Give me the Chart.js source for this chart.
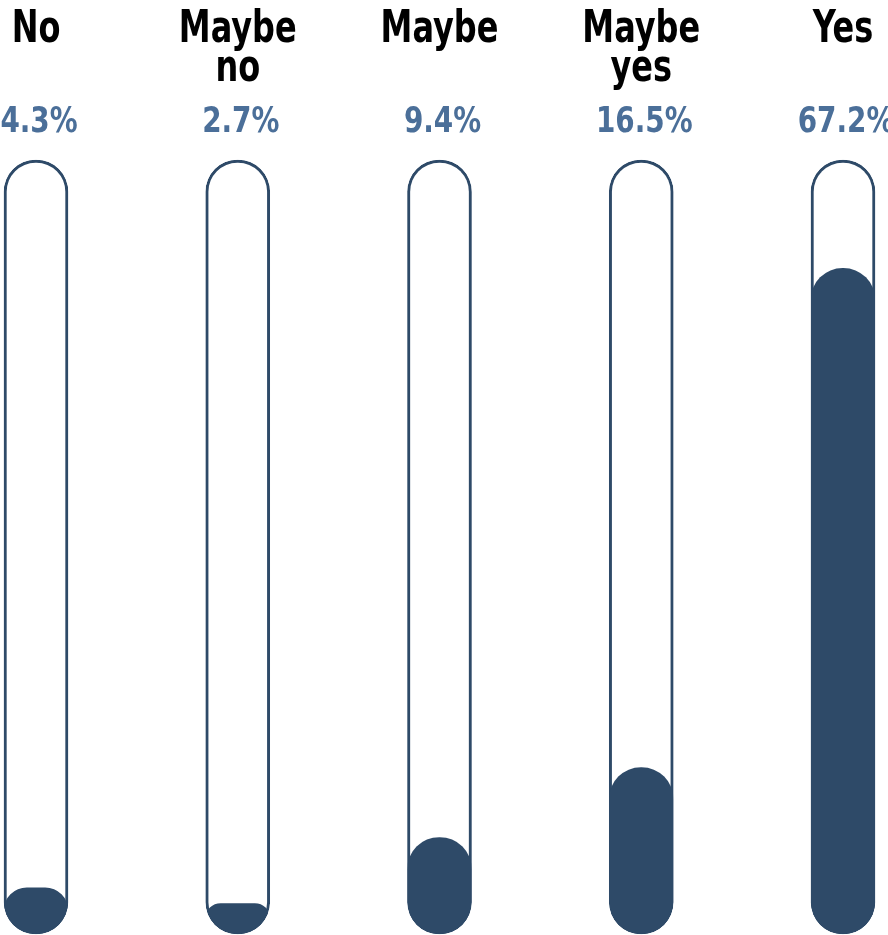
<!DOCTYPE html>
<html>
<head>
<meta charset="utf-8">
<title>Answers</title>
<script src="https://cdn.jsdelivr.net/npm/chart.js@4/dist/chart.umd.min.js"></script>
<style>
    html, body { margin: 0; padding: 0; background: #ffffff; }
    #wrap { width: 888px; height: 935px; position: relative; }
</style>
</head>
<body>
<div id="wrap"><canvas id="tubeChart"></canvas></div>
<script>
// 응답 데이터
const categories = [['No'], ['Maybe', 'no'], ['Maybe'], ['Maybe', 'yes'], ['Yes']];
const shares = [4.3, 2.7, 9.4, 16.5, 67.2];

// 축 범위 (튜브 높이 = 축 최대값)
const yMin = -0.4;
const yMax = 78.2;
const tubeLevels = categories.map(() => yMax);

const darkBlue = '#2e4a68';
const labelBlue = '#4b6f99';
const narrowFont = "'Liberation Sans Narrow', 'DejaVu Sans Condensed', 'Arial Narrow', sans-serif";

// 채워진 막대를 튜브 모양 안으로 잘라내기
const tubeClip = {
    id: 'tubeClip',
    beforeDatasetDraw(chart, args) {
        if (args.index !== 0) return;
        const tubes = chart.getDatasetMeta(1).data;
        const ctx = chart.ctx;
        ctx.save();
        ctx.beginPath();
        tubes.forEach(function(el) {
            const w = el.width;
            ctx.roundRect(el.x - w / 2, el.y, w, el.base - el.y, w / 2);
        });
        ctx.clip();
    },
    afterDatasetDraw(chart, args) {
        if (args.index !== 0) return;
        chart.ctx.restore();
    }
};

// 좁은 글꼴 느낌을 위해 가로로 눌러서 그림
function drawNarrow(ctx, text, x, y, squeeze) {
    ctx.save();
    ctx.translate(x, y);
    ctx.scale(squeeze, 1);
    ctx.fillText(text, 0, 0);
    ctx.restore();
}

// 상단 항목명과 퍼센트 표시
const headerLabels = {
    id: 'headerLabels',
    afterDraw(chart) {
        const ctx = chart.ctx;
        const xScale = chart.scales.x;
        ctx.save();
        ctx.textAlign = 'center';
        ctx.textBaseline = 'alphabetic';
        categories.forEach(function(lines, i) {
            const x = xScale.getPixelForValue(i);
            ctx.fillStyle = '#000000';
            ctx.font = 'bold 45px ' + narrowFont;
            lines.forEach(function(line, j) {
                drawNarrow(ctx, line, x, 42 + j * 39, 0.79);
            });
            ctx.fillStyle = labelBlue;
            ctx.font = 'bold 36px ' + narrowFont;
            drawNarrow(ctx, shares[i].toFixed(1) + '%', x + 3, 132, 0.86);
        });
        ctx.restore();
    }
};

const ctx = document.getElementById('tubeChart').getContext('2d');
new Chart(ctx, {
    type: 'bar',
    data: {
        labels: categories,
        datasets: [
            {
                label: 'Share',
                data: shares,
                base: yMin,
                backgroundColor: darkBlue,
                borderWidth: 0,
                borderRadius: 40,
                borderSkipped: false,
                barThickness: 64,
                grouped: false,
                clip: false,
                order: 1
            },
            {
                label: 'Tube',
                data: tubeLevels,
                base: yMin,
                backgroundColor: '#ffffff',
                borderColor: darkBlue,
                borderWidth: 3,
                borderRadius: 40,
                borderSkipped: false,
                barThickness: 64,
                grouped: false,
                clip: false,
                order: 2
            }
        ]
    },
    options: {
        responsive: true,
        maintainAspectRatio: false,
        animation: false,
        layout: {
            padding: { top: 160, bottom: 1, left: 36, right: 45 }
        },
        plugins: {
            legend: { display: false },
            tooltip: { enabled: false }
        },
        scales: {
            x: {
                display: false,
                offset: false,
                grid: { display: false }
            },
            y: {
                display: false,
                min: yMin,
                max: yMax,
                grid: { display: false }
            }
        }
    },
    plugins: [tubeClip, headerLabels]
});
</script>
</body>
</html>
